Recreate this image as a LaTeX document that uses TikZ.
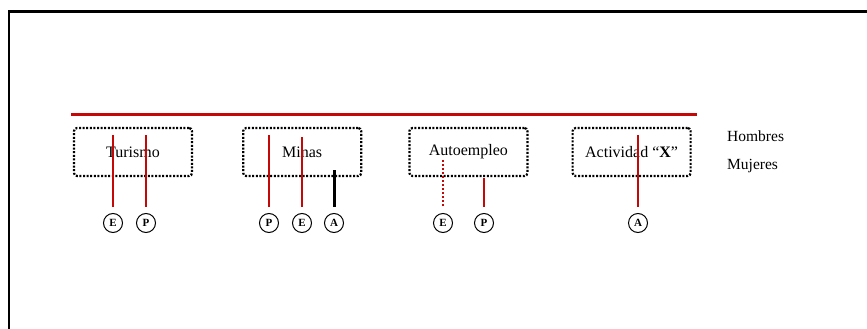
\documentclass[tikz,border=0pt]{standalone}
\usepackage{fontspec}
\setmainfont{Liberation Serif}
\usetikzlibrary{positioning}
\definecolor{linered}{RGB}{196,8,8}
\tikzset{
  % dotted box of an activity
  act box/.style = {
    draw = black,
    line width = 2.2pt,
    dash pattern = on 2pt off 1.6pt,
    rounded corners = 3pt,
    minimum width = 118pt,
    minimum height = 48pt,
    inner sep = 0,
    font = \fontsize{16}{16}\selectfont
  },
  % small circle with a letter
  tag/.style = {
    draw = black,
    circle,
    line width = 1pt,
    minimum size = 19pt,
    inner sep = 0,
    font = \bfseries\fontsize{11}{11}\selectfont
  },
  legend/.style = {
    anchor = west,
    inner sep = 0,
    font = \fontsize{15.5}{16}\selectfont
  },
  red link/.style = {
    draw = linered,
    line width = 2pt,
    shorten > = 6pt
  },
  red dots/.style = {
    red link,
    dash pattern = on 2pt off 2pt
  },
  black link/.style = {
    draw = black,
    line width = 3pt,
    shorten > = 6pt
  },
  node distance = 48pt
}

\begin{document}
\begin{tikzpicture}[x=1pt, y=-1pt]
    \useasboundingbox (0,0) rectangle (867,329);
    \draw[line width = 2.2pt] (9,329) -- (9,11.5) -- (867,11.5);

    \coordinate (bar-left) at (71,114.5);
    \coordinate (bar-right) at (697,114.5);
    \draw[linered, line width = 2.2pt] (bar-left) -- (bar-right);

    \node[act box] (turismo) at (133,152) {Turismo};
    \node[act box] (minas) [right=49pt of turismo] {Minas};
    \node[act box] (autoempleo) [right=46pt of minas] {Autoempleo};
    \node[act box] (actividad) [right=43pt of autoempleo] {Actividad ``\textbf{X}''};

    \node[legend] (hombres) at (727,136) {Hombres};
    \node[legend] (mujeres) at (727,166) {Mujeres};

    % letters under the boxes
    \node[tag] (tur-e) at (113,223) {E};
    \node[tag] (tur-p) at (146,223) {P};
    \node[tag] (min-p) at (269,223) {P};
    \node[tag] (min-e) at (302,223) {E};
    \node[tag] (min-a) at (334,223) {A};
    \node[tag] (aut-e) at (443,223) {E};
    \node[tag] (aut-p) at (484,223) {P};
    \node[tag] (act-a) at (638,223) {A};

    \coordinate (tur-e-top) at (113,135);
    \coordinate (tur-p-top) at (146,135);
    \coordinate (min-p-top) at (269,135);
    \coordinate (min-e-top) at (302,137);
    \coordinate (min-a-top) at (334,170);
    \coordinate (aut-e-top) at (443,160);
    \coordinate (aut-p-top) at (484,178);
    \coordinate (act-a-top) at (638,135);

    \draw[red link] (tur-e-top) -- (tur-e);
    \draw[red link] (tur-p-top) -- (tur-p);
    \draw[red link] (min-p-top) -- (min-p);
    \draw[red link] (min-e-top) -- (min-e);
    \draw[black link] (min-a-top) -- (min-a);
    \draw[red dots] (aut-e-top) -- (aut-e);
    \draw[red link] (aut-p-top) -- (aut-p);
    \draw[red link] (act-a-top) -- (act-a);
  \end{tikzpicture}
\end{document}
